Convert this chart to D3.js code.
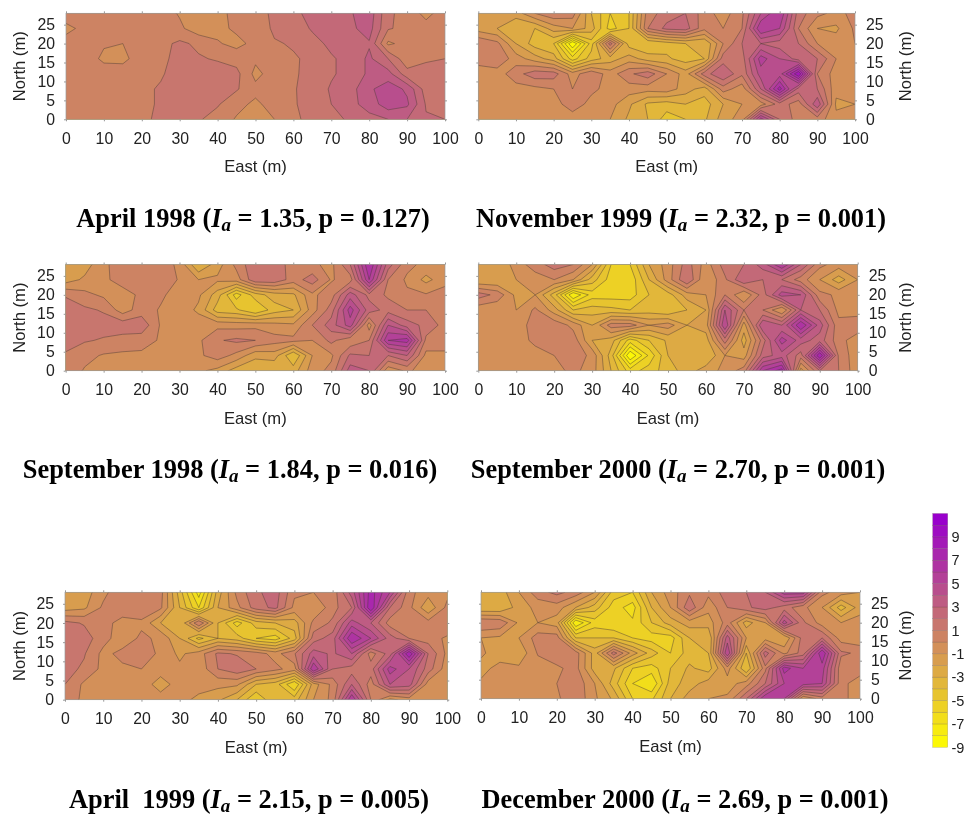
<!DOCTYPE html>
<html>
<head>
<meta charset="utf-8">
<script src="https://cdn.jsdelivr.net/npm/d3@7"></script>
<style>
  body { margin: 0; background: #fff; }
  svg { filter: blur(0.35px); }
  text { font-family: "Liberation Sans", sans-serif; fill: #222; }
  .title { font-family: "Liberation Serif", serif; font-weight: bold; font-size: 26.4px; fill: #000; }
</style>
</head>
<body>
<div id="viz"></div>
<script>
//grid the maps are read on, rows run from the north edge down
var eastM = d3.range(0, 101, 5);
var northM = [28, 24, 20, 16, 12, 8, 4, 0];

var xTicks = d3.range(0, 101, 10);
var yTicks = [0, 5, 10, 15, 20, 25];
var levels = d3.range(-9, 11);
var barLabels = [9, 7, 5, 3, 1, -1, -3, -5, -7, -9];

var april1998 = [
  [.4,.5,.5,.5,.5,.5,-.1,-.7,-.3,.3,.8,1.1,1.7,2.4,2.6,2.9,3.6,1.2,.6,-.3,.5],
  [-.2,.2,.5,.5,.5,.5,.2,-.6,-.3,.2,.3,1.2,1.5,2.1,2.4,2.8,3.4,1.1,.7,.4,.5],
  [.3,.5,.1,0,.6,.7,1.2,.8,.1,-.3,.3,.9,1.1,1.7,2.2,2.9,2.9,-.2,.4,.6,.6],
  [.5,.5,-.2,-.3,.6,.7,1.4,1.1,.9,.6,.2,.7,.9,1.2,1.9,2.3,3.2,2,.3,.9,1],
  [.5,.5,.5,.6,.7,.9,1.4,1.5,1.5,1.3,-.3,.5,.8,1.5,1.9,2.3,3.2,3.4,1.4,1.3,1.3],
  [.5,.5,.5,.6,.8,1.1,1.4,1.5,1.5,1.1,.3,.5,.9,1.5,2.1,2.6,3.8,4.6,3.8,1.5,1.4],
  [.5,.5,.5,.6,.8,1.1,1.4,1.4,1.1,.3,-.2,.4,.9,1.4,2,2.7,3.4,4.6,4.2,1.9,1.8],
  [.5,.5,.5,.6,.8,1.2,1.3,1.1,.6,-.1,-.6,0,.8,1.3,1.8,2.1,2.7,3,3,2.1,2]
];
var november1999 = [
  [-2,-1.5,-1.5,0,.8,.5,-3,-5,-4,.5,1.5,2,.5,-.5,.8,4,6,1.5,.3,-.3,.3],
  [-1.5,-2,-3,-3,-1.5,-1,-2.5,-5.5,-4,1,2.3,2.5,.3,0,1,6,5,1,-1,-1.2,.2],
  [1,.3,-2,-3.5,-4,-9,-4.5,1.5,-3.5,-4,-3.5,-3,-3,0,2,3,2.5,2,0,-.5,0],
  [.4,.8,-.5,-1.5,-2.5,-5.5,-3.5,-2.5,-1.5,-2.5,-2.8,-3.5,-3,1.5,1.5,5.5,4,2.5,2,0,-.7],
  [-.5,-.5,.6,1.6,1.5,-.5,.8,-.5,.8,1.6,0,-1.5,1.5,3,1.2,4.5,4.5,9,1,-.5,-.5],
  [-.5,-.5,-.4,-.3,0,0,.2,-.3,-.5,-.6,-.4,-1.5,-2.5,.5,-.6,3,7.5,2.5,2,-.7,-.7],
  [-.5,-.5,-.5,-.5,-.4,.5,-.3,-.6,-1.8,-3.2,-3.5,-3,-3.5,-2,-1,-.5,1.5,.5,3.8,-1.2,-1],
  [-.5,-.5,-.7,-.3,-.3,-.5,-.6,-1,-2.2,-3,-4.5,-4,-3.2,-1.5,-.5,5.5,2,.5,.5,-.7,-.5]
];
var september1998 = [
  [-1.5,-1.5,-.2,.5,.8,.7,-.3,-3,-1.5,.3,1.8,1.8,.4,.2,-.3,2,7,2.5,.3,-.3,-.3],
  [-1.5,-.8,-.2,.4,.8,.7,-.1,-1,-.8,-.5,1.8,1.8,.5,1.5,-.1,.5,6,1,-.2,-1.3,-.4],
  [.9,.3,-.2,-.4,.2,.2,-.5,-.8,-2.5,-5.5,-3.5,-2.5,-2.2,-.2,.5,3.5,1.7,.8,.2,.1,.5],
  [1.5,1.2,.9,-.5,.5,-.1,-.4,-1.2,-3.5,-3.8,-5,-3.5,-3,-.5,1.5,5.5,2.5,1.6,1,1,.8],
  [1.5,1.4,1.4,1.6,1.7,-.1,-.4,-.4,-.3,-.4,-.3,-.6,-.8,1,2.5,4.5,-.5,4,2.5,1.7,.6],
  [1.3,1.1,.9,.6,.4,-.1,-.3,-.2,.9,1.2,1,.4,.3,0,1.3,.2,1,6,6.5,.7,.7],
  [.9,.3,-.1,-.2,-.2,-.2,-.3,-.2,.5,-.3,-1.7,-1.5,-4,-1,-.2,2.2,2,2,3,-.3,-.3],
  [.7,-.1,-.3,-.4,-.4,-.4,-.5,-.8,-1.3,-2.5,-3,-3,-2.5,-.5,.3,3.5,3,-.7,.2,-.5,-.5]
];
var september2000 = [
  [-2,-2,-.5,.5,1.5,1,-1,-5,-5,-2,-.5,1.5,-.5,1.5,2,3.5,6,3,.3,-.5,-1],
  [-2,-2,-1,-.5,0,-1,-3.5,-5.5,-5.8,-3,-.5,2,-1,.8,3,2,2,.5,-1,-2.5,-1],
  [1.5,.7,-1.3,-1,-3.5,-8,-5.5,-5.5,-5.5,-4,-3.5,-1.5,-1,1,-1,1.5,4.5,4,.3,-.2,-.5],
  [-.7,-.9,-1,.2,-1.5,-4,-3.5,-3.7,-4,-3.5,-4,-3,-2,4,1,1,-1,3,2,-.3,-.5],
  [-.7,-.6,-.6,.5,.7,-.3,-2,.5,.5,-1,-.5,-2,-1.5,5,-1.5,4,3,7,3.5,.3,.7],
  [-.6,-.6,-.6,.3,.5,.6,-2,-2.5,-5.5,-4,-2.8,-3,-2.5,1.5,-2.5,1.5,5.5,3.5,2.5,.4,-.6],
  [-.6,-.6,-.6,-.5,0,.7,-.3,-3.5,-9,-5.8,-3,-3,-3,-1,-1.5,2.5,3.5,1.5,8,.8,-.7],
  [-.6,-.6,-.6,-.5,-.4,.3,-.5,-3,-5.5,-4.5,-3.5,-2.5,-1.5,-.7,.5,6,7.5,-1.5,2,1,-.7]
];
var april1999 = [
  [-1.5,-1.5,-.3,.8,.9,.4,-3.5,-7.5,-2.5,.3,1.8,2.5,.2,0,.3,3.5,7.5,5,.3,-.6,-.3],
  [-1.5,-1.2,.2,.5,.7,.2,-3,-6,-2,-.3,1.5,2.3,-.3,-1,.6,2,8,2,.3,-1.8,.3],
  [1.3,.9,.3,-.3,-.2,-2,-3,1,-3,-5.5,-3.5,-3,-2.5,.3,1.2,4.5,3,.5,.3,.4,1],
  [1.6,1.5,.4,-.6,.2,-.2,-2,-4.3,-3,-3.5,-5,-5.5,-3.5,1.5,2.5,7,5,2.5,1,.5,-.2],
  [1.6,1.1,-.3,.3,.8,-.3,-1.2,-.5,1.2,.9,.5,-.4,.9,3.5,2.8,4,.5,2.5,8,2,-.3],
  [1.4,.8,-.3,-.2,0,-.5,-.8,-.7,1,1.7,1,.3,-.5,6,2,1.5,1.5,5.5,4,1.5,-.6],
  [1,-.2,-.3,-.4,-.4,-1.5,-.5,-.5,-.7,-.8,-3,-3.5,-6,-1.5,.3,3,.5,4,3.5,-.5,-.5],
  [.8,-.3,-.3,-.3,-.3,-.5,-.6,-1.3,-1.8,-3,-5,-3,-3.5,-1,.3,6,1,-1.3,-.5,-.3,-.3]
];
var december2000 = [
  [-3,-2.5,-1,.6,1.3,.6,-1,-4.5,-5,-2,-.5,.8,.3,1.5,2,3,5.5,5.5,.3,-.5,-1],
  [-3,-3,-1.5,-.7,-.5,-2,-3.5,-5.5,-6.5,-3,-1,1.8,-.7,1,1.8,2.5,1.5,.3,-1,-3.5,-1.5],
  [1,.8,-1.2,-1,-1.5,-8,-5.5,-6,-5.8,-4,-2.5,-1.5,-1.5,.5,-2.5,-1,4.5,1.2,-.5,-1,-.5],
  [-1,-1.2,-1,.5,.5,-4,-4,-4,-5,-5.5,-5.5,-3,-3,3.5,-1,-1.5,-2,1.5,2,-.5,-.8],
  [-.9,-1.3,-1.8,.1,.7,.5,-2.5,1.5,-1.5,-3.5,-5,-3.5,-3,5,-3,2.5,-.3,1.5,7,1.2,.8],
  [-1.2,-.8,-.8,-.5,-.2,.4,-2.5,-2.8,-5,-5.5,-4,-2.8,-3.5,-.5,-4,.7,6.5,5,5.5,.3,.5],
  [-.9,-.7,-.7,-.5,0,.8,-1,-3.5,-6,-7,-3.5,-2.5,-1.5,-1.5,-.5,2,5,5.5,5,.3,-.5],
  [-.7,-.7,-.7,-.5,-.2,.8,-.8,-2.2,-5,-5.2,-3,-1.5,-1,-.8,2,6,5,-1,.5,.3,-.5]
];

var panels = [
  { name: "April 1998", grid: april1998, ia: "1.35", p: "0.127", x0: 66, x1: 445, y0: 13.3, y1: 119.3, side: "left", tx: 253, ty: 227 },
  { name: "November 1999", grid: november1999, ia: "2.32", p: "0.001", x0: 478.3, x1: 855, y0: 13.3, y1: 119.3, side: "right", tx: 681, ty: 227 },
  { name: "September 1998", grid: september1998, ia: "1.84", p: "0.016", x0: 65.7, x1: 445, y0: 264.5, y1: 370.7, side: "left", tx: 230, ty: 478 },
  { name: "September 2000", grid: september2000, ia: "2.70", p: "0.001", x0: 478.3, x1: 857.7, y0: 264.5, y1: 370.7, side: "right", tx: 678, ty: 478 },
  { name: "April\u00a0 1999", grid: april1999, ia: "2.15", p: "0.005", x0: 65, x1: 447.3, y0: 592.3, y1: 699.7, side: "left", tx: 249, ty: 808 },
  { name: "December 2000", grid: december2000, ia: "2.69", p: "0.001", x0: 481, x1: 860, y0: 592.3, y1: 698.7, side: "right", tx: 685, ty: 808 }
];

//straight yellow to purple ramp, each band takes the colour of its middle
var ramp = d3.scaleLinear().domain([-9, 10.5]).range(["#ffff00", "#9900cc"]).interpolate(d3.interpolateRgb).clamp(true);
var lineCol = "#4a3a35";

var svg = d3.select('#viz').append('svg')
  .attr('width', 966)
  .attr('height', 815)
  .style('display', 'block');

panels.forEach(function(p, i){
  var x = d3.scaleLinear().domain([0, 100]).range([p.x0, p.x1]);
  var y = d3.scaleLinear().domain([0, 28]).range([p.y1, p.y0]);
  var g = svg.append('g').attr('class', 'panel');

  g.append('clipPath').attr('id', 'clip' + i)
    .append('rect')
    .attr('x', p.x0).attr('y', p.y0)
    .attr('width', p.x1 - p.x0).attr('height', p.y1 - p.y0);

  var values = d3.merge(p.grid);
  var contours = d3.contours()
    .size([eastM.length, northM.length])
    .thresholds(levels)(values);

  //contour coordinates are offset half a cell from the grid nodes
  var path = d3.geoPath(d3.geoTransform({
    point: function(cx, cy){
      this.stream.point(x((cx - 0.5) * 5), y(28 - (cy - 0.5) * 4));
    }
  }));

  var maps = g.append('g').attr('clip-path', 'url(#clip' + i + ')');
  maps.append('rect')
    .attr('x', p.x0).attr('y', p.y0)
    .attr('width', p.x1 - p.x0).attr('height', p.y1 - p.y0)
    .attr('fill', ramp(-9.5));
  maps.selectAll('path').data(contours).enter().append('path')
    .attr('d', path)
    .attr('fill', function(d){ return ramp(d.value + 0.5); })
    .attr('stroke', lineCol)
    .attr('stroke-opacity', 0.75)
    .attr('stroke-width', 0.6);

  g.append('rect')
    .attr('x', p.x0).attr('y', p.y0)
    .attr('width', p.x1 - p.x0).attr('height', p.y1 - p.y0)
    .attr('fill', 'none').attr('stroke', '#999').attr('stroke-width', 0.7);

  //axes
  var xAxis = g.append('g')
    .attr('transform', 'translate(0,' + p.y1 + ')')
    .call(d3.axisBottom(x).tickValues(xTicks).tickSize(2).tickPadding(11));
  var xTop = g.append('g')
    .attr('transform', 'translate(0,' + p.y0 + ')')
    .call(d3.axisTop(x).tickValues(xTicks).tickSize(2).tickFormat(''));
  var left = p.side == 'left';
  var yAxis = g.append('g')
    .attr('transform', 'translate(' + (left ? p.x0 : p.x1) + ',0)')
    .call((left ? d3.axisLeft(y) : d3.axisRight(y)).tickValues(yTicks).tickSize(2).tickPadding(9));
  var yOther = g.append('g')
    .attr('transform', 'translate(' + (left ? p.x1 : p.x0) + ',0)')
    .call((left ? d3.axisRight(y) : d3.axisLeft(y)).tickValues(yTicks).tickSize(2).tickFormat(''));
  [xAxis, xTop, yAxis, yOther].forEach(function(a){
    a.select('.domain').remove();
    a.selectAll('line').attr('stroke', '#999');
    a.selectAll('text').style('font-size', '15.8px').style('font-family', '"Liberation Sans", sans-serif').attr('fill', '#222');
  });

  g.append('text')
    .attr('x', (p.x0 + p.x1) / 2)
    .attr('y', p.y1 + 53)
    .attr('text-anchor', 'middle')
    .style('font-size', '16.6px')
    .text('East (m)');

  var labX = left ? 25 : 911;
  g.append('text')
    .attr('transform', 'translate(' + labX + ',' + ((p.y0 + p.y1) / 2) + ') rotate(-90)')
    .attr('text-anchor', 'middle')
    .style('font-size', '16.6px')
    .text('North (m)');

  var t = g.append('text')
    .attr('class', 'title')
    .attr('x', p.tx).attr('y', p.ty)
    .attr('text-anchor', 'middle');
  t.append('tspan').text(p.name + ' (');
  t.append('tspan').style('font-style', 'italic').text('I');
  t.append('tspan').style('font-style', 'italic').style('font-size', '19px').attr('dy', 4).text('a');
  t.append('tspan').attr('dy', -4).text(' = ' + p.ia + ', p = ' + p.p + ')');
});

//colour key
var barY = d3.scaleLinear().domain([-9, 11]).range([747.3, 513.5]);
var bar = svg.append('g').attr('class', 'key');
bar.selectAll('rect').data(levels).enter().append('rect')
  .attr('x', 932.7)
  .attr('width', 15)
  .attr('y', function(d){ return barY(d + 1); })
  .attr('height', function(d){ return barY(d) - barY(d + 1); })
  .attr('fill', function(d){ return ramp(d + 0.5); })
  .attr('stroke', lineCol)
  .attr('stroke-opacity', 0.35)
  .attr('stroke-width', 0.5);
bar.selectAll('text').data(barLabels).enter().append('text')
  .attr('x', 951.5)
  .attr('y', function(d){ return barY(d); })
  .attr('dy', '0.36em')
  .style('font-size', '14.5px')
  .text(function(d){ return d; });
</script>
</body>
</html>
